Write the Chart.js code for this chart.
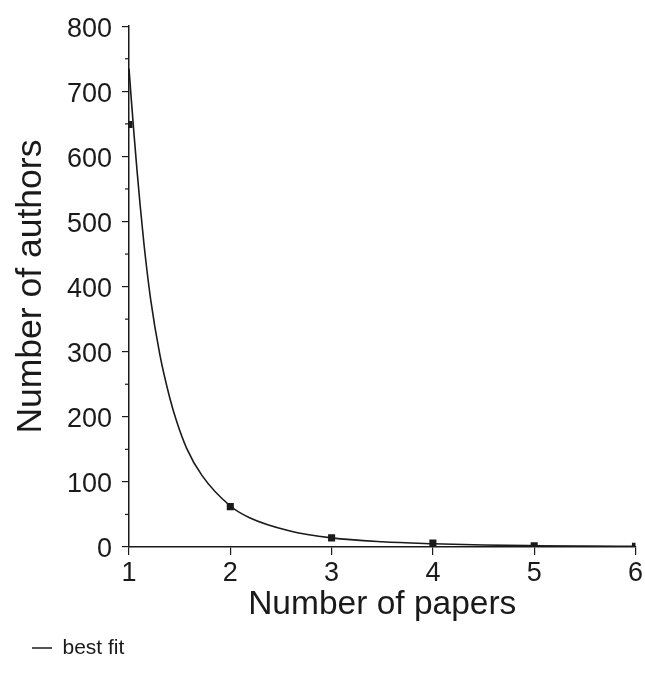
<!DOCTYPE html>
<html><head><meta charset="utf-8">
<script src="https://cdn.jsdelivr.net/npm/chart.js@4"></script>
<style>html,body{margin:0;padding:0;background:#fff}#wrap{width:645px;height:682px;position:relative}</style>
</head><body><div id="wrap"><canvas id="c" width="645" height="682"></canvas></div>
<script>
// Observed data (squares)
const paperCounts = [1, 2, 3, 4, 5, 6];
const authorCounts = [649, 62, 14, 6, 2, 1];
// Best-fit curve
const fitX = [1.00, 1.02, 1.05, 1.08, 1.11, 1.148, 1.214, 1.305, 1.404, 1.47, 1.568, 1.72, 2.0, 2.19, 2.58, 3.0, 3.5, 4.0, 4.5, 5.0, 5.5, 6.0];
const fitY = [735, 693, 633, 577, 525, 465, 380, 295, 228, 193, 152, 110, 63, 45, 25, 14, 8, 5, 3, 2, 1.4, 1];
const xTicks = [1, 2, 3, 4, 5, 6];
const yTicks = [0, 100, 200, 300, 400, 500, 600, 700, 800];
const yMinorTicks = [50, 150, 250, 350, 450, 550, 650, 750];

const INK = '#1a1a1a';
const FONT = "'Liberation Sans', Arial, sans-serif";

const minorTicks = {
  id: 'minorTicks',
  afterDatasetsDraw(chart) {
    const y = chart.scales.y, ctx = chart.ctx;
    const x0 = y.right;
    ctx.save();
    ctx.strokeStyle = INK; ctx.lineWidth = 1.2;
    yMinorTicks.forEach(v => {
      const p = y.getPixelForValue(v);
      ctx.beginPath(); ctx.moveTo(x0 - 4, p); ctx.lineTo(x0, p); ctx.stroke();
    });
    ctx.restore();
  }
};

new Chart(document.getElementById('c'), {
  type: 'scatter',
  data: {
    datasets: [
      {
        label: 'best fit',
        type: 'line',
        data: fitX.map((x, i) => ({ x, y: fitY[i] })),
        borderColor: INK, borderWidth: 1.6, pointRadius: 0,
        cubicInterpolationMode: 'monotone', fill: false
      },
      {
        label: 'observed',
        data: paperCounts.map((x, i) => ({ x, y: authorCounts[i] })),
        pointStyle: 'rect', pointRadius: 5, backgroundColor: INK, borderColor: INK, borderWidth: 0
      }
    ]
  },
  options: {
    responsive: false, animation: false, devicePixelRatio: 1,
    layout: { padding: { left: 24, right: 2, top: 25, bottom: 13.5 } },
    plugins: {
      legend: {
        position: 'bottom', align: 'start',
        labels: {
          filter: item => item.text === 'best fit',
          usePointStyle: true, pointStyle: 'line', pointStyleWidth: 20, boxHeight: 14,
          color: INK, font: { family: FONT, size: 21 }, padding: 8
        }
      },
      tooltip: { enabled: false }
    },
    scales: {
      x: {
        type: 'linear', min: 1, max: 6,
        afterBuildTicks: s => { s.ticks = xTicks.map(v => ({ value: v })); },
        afterFit: s => { s.height = 82.5; },
        ticks: { color: INK, font: { family: FONT, size: 27 }, padding: 2 },
        grid: { drawOnChartArea: false, drawTicks: true, tickLength: 8, color: INK, lineWidth: 1.2 },
        border: { color: INK, width: 1.5 },
        title: { display: true, text: 'Number of papers', color: INK, font: { family: FONT, size: 33.5 }, padding: { top: 0, bottom: 5 } }
      },
      y: {
        min: 0, max: 800,
        afterBuildTicks: s => { s.ticks = yTicks.map(v => ({ value: v })); },
        afterFit: s => { s.width = 105; },
        ticks: { color: INK, font: { family: FONT, size: 27 }, padding: 10, labelOffset: 3 },
        grid: { drawOnChartArea: false, drawTicks: true, tickLength: 7, color: INK, lineWidth: 1.2 },
        border: { color: INK, width: 1.5 },
        title: { display: true, text: 'Number of authors', color: INK, font: { family: FONT, size: 35.5 }, padding: { top: -14, bottom: 0 } }
      }
    }
  },
  plugins: [minorTicks]
});
</script>
</body></html>
